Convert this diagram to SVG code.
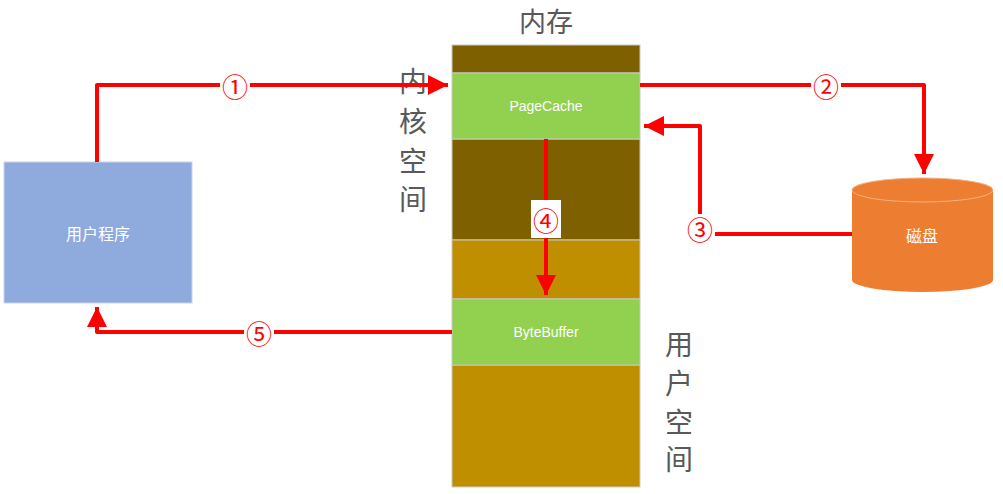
<svg xmlns="http://www.w3.org/2000/svg" width="1003" height="494" viewBox="0 0 1003 494">
<defs>
<style>
.lbl{font-family:"Liberation Sans","Noto Sans CJK SC",sans-serif;fill:#fff;font-size:14px;text-anchor:middle;dominant-baseline:central}
.cjk{font-family:"Noto Sans CJK SC",sans-serif;fill:#fff;font-size:16px;text-anchor:middle;dominant-baseline:central}
.big{font-family:"Noto Sans CJK SC",sans-serif;fill:#595959;text-anchor:middle;dominant-baseline:central}
.num{font-family:"Noto Sans CJK SC",sans-serif;fill:#FF0000;font-size:26px;text-anchor:middle;dominant-baseline:central}
.ln{fill:none;stroke:#FF0000;stroke-width:4;stroke-linejoin:round}
.seg{stroke:#C9C9C9;stroke-width:1}
</style>
<marker id="ah" viewBox="0 0 10 10" refX="10" refY="5" markerWidth="5" markerHeight="5" markerUnits="strokeWidth" orient="auto">
<path d="M0,0 L10,5 L0,10 Z" fill="#FF0000"/>
</marker>
</defs>
<rect width="1003" height="494" fill="#fff"/>
<g id="memory">
<text class="big" x="546" y="20" font-size="27">内存</text>
<rect class="seg" x="452" y="45" width="188" height="28" fill="#7F6000"/>
<rect class="seg" x="452" y="139" width="188" height="101" fill="#7F6000"/>
<rect class="seg" x="452" y="240" width="188" height="59" fill="#BF8F00"/>
<rect class="seg" x="452" y="365" width="188" height="122" fill="#BF8F00"/>
</g>
<g id="pagecache">
<rect class="seg" x="452" y="73" width="188" height="66" fill="#92D050"/>
<text class="lbl" x="546" y="106">PageCache</text>
</g>
<g id="bytebuffer">
<rect class="seg" x="452" y="299" width="188" height="66" fill="#92D050"/>
<text class="lbl" x="546" y="332">ByteBuffer</text>
</g>
<g id="kernel-label">
<text class="big" font-size="28" x="413" y="80">内</text>
<text class="big" font-size="28" x="413" y="120">核</text>
<text class="big" font-size="28" x="413" y="160">空</text>
<text class="big" font-size="28" x="413" y="198">间</text>
</g>
<g id="user-label">
<text class="big" font-size="28" x="679" y="343">用</text>
<text class="big" font-size="28" x="679" y="382">户</text>
<text class="big" font-size="28" x="679" y="421">空</text>
<text class="big" font-size="28" x="679" y="458">间</text>
</g>
<g id="user-program">
<rect x="4" y="162" width="188" height="141" fill="#8FAADC" stroke="#C9D3E8" stroke-width="1"/>
<text class="cjk" x="98" y="233">用户程序</text>
</g>
<g id="disk">
<path d="M852,190 L852,280 A70.5,12 0 0 0 993,280 L993,190 Z" fill="#ED7D31"/>
<ellipse cx="922.5" cy="190" rx="70.5" ry="12" fill="#ED7D31" stroke="#F4B183" stroke-width="1"/>
<text class="cjk" x="922" y="235">磁盘</text>
</g>
<g id="connectors">
<path class="ln" d="M97,162 L97,85 L448,85" marker-end="url(#ah)"/>
<path class="ln" d="M640,85 L924,85 L924,174" marker-end="url(#ah)"/>
<path class="ln" d="M852,234 L700,234 L700,126 L644,126" marker-end="url(#ah)"/>
<path class="ln" d="M546,139 L546,295" marker-end="url(#ah)"/>
<path class="ln" d="M452,332 L97,332 L97,307" marker-end="url(#ah)"/>
<rect x="220" y="71" width="30" height="28" fill="#fff"/>
<text class="num" x="235" y="85">①</text>
<rect x="811" y="71" width="30" height="28" fill="#fff"/>
<text class="num" x="826" y="85">②</text>
<rect x="685" y="214" width="30" height="28" fill="#fff"/>
<text class="num" x="700" y="228">③</text>
<rect x="531" y="200" width="30" height="38" fill="#fff"/>
<text class="num" x="546" y="219">④</text>
<rect x="244" y="318" width="30" height="28" fill="#fff"/>
<text class="num" x="259" y="332">⑤</text>
</g>
</svg>
